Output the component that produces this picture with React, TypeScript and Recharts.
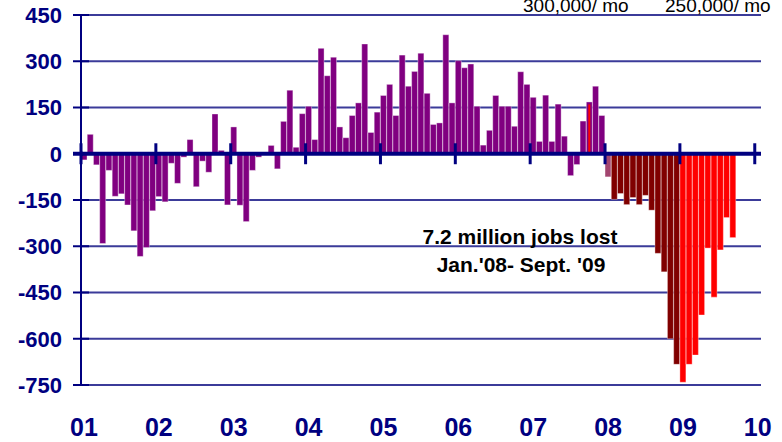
import { BarChart, Bar, XAxis, YAxis, CartesianGrid, ReferenceLine, Cell } from "recharts";

const years = ["2001", "2002", "2003", "2004", "2005", "2006", "2007", "2008", "2009"];

// monthly change in payroll jobs, thousands
const jobs2001 = [-20, 63, -36, -291, -54, -138, -130, -166, -250, -333, -304, -185];
const jobs2002 = [-139, -156, -31, -96, -11, 46, -107, -24, -60, 129, 11, -166];
const jobs2003 = [87, -167, -220, -54, -11, -3, 27, -49, 105, 206, 21, 130];
const jobs2004 = [154, 46, 342, 253, 313, 87, 52, 124, 165, 356, 69, 135];
const jobs2005 = [189, 225, 124, 320, 219, 267, 326, 196, 95, 100, 386, 165];
const jobs2006 = [302, 279, 291, 154, 28, 76, 189, 154, 154, 89, 266, 225];
const jobs2007 = [183, 40, 190, 40, 161, 57, -71, -35, 106, 168, 219, 124];
const jobs2008 = [-75, -148, -129, -165, -142, -165, -135, -183, -323, -383, -600, -683];
const jobs2009 = [-741, -683, -653, -523, -306, -465, -312, -207, -272];

const jobsByYear = [jobs2001, jobs2002, jobs2003, jobs2004, jobs2005, jobs2006, jobs2007, jobs2008, jobs2009];

const highlightMonth = "2007-10";
const highlightValue = 160;

const yTicks = [-750, -600, -450, -300, -150, 0, 150, 300, 450];
const yearTicks = [...years.map((y) => `${y}-01`), "2010-01"];

const data: { month: string; jobs: number | null; hl: number | null }[] = [];
years.forEach((yr, i) => {
  for (let m = 0; m < 12; m++) {
    const month = `${yr}-${String(m + 1).padStart(2, "0")}`;
    const v = jobsByYear[i][m];
    data.push({
      month,
      jobs: v === undefined ? null : v,
      hl: month === highlightMonth ? highlightValue : null,
    });
  }
});
data.push({ month: "2010-01", jobs: null, hl: null });

const NAVY = "#000080";
const FONT = "'Liberation Sans', Arial, sans-serif";
const PLOT_W = 680;
const BAND = PLOT_W / data.length;

const colorFor = (month: string) => {
  if (month === "2008-01") return "#a3456f";
  if (month.startsWith("2008")) return "#800000";
  if (month.startsWith("2009")) return "#ff0000";
  return "#800080";
};

const XTick = (props: any) => {
  const { x, y, payload } = props;
  const [yr, mo] = String(payload.value).split("-");
  if (mo !== "01") return null;
  return (
    <text
      x={x - BAND / 2 + 3}
      y={y + 51}
      textAnchor="middle"
      fill={NAVY}
      fontSize={25}
      fontWeight="bold"
      fontFamily={FONT}
    >
      {yr.slice(2)}
    </text>
  );
};

const YTick = (props: any) => {
  const { x, y, payload } = props;
  const zero = payload.value === 0;
  return (
    <g>
      <line x1={x - 8} x2={x + (zero ? 2 : 8)} y1={y} y2={y} stroke={NAVY} strokeWidth={zero ? 4 : 2} />
      <text
        x={x - 19}
        y={y}
        dy="0.36em"
        textAnchor="end"
        fill={NAVY}
        fontSize={22}
        fontWeight="bold"
        fontFamily={FONT}
      >
        {payload.value}
      </text>
    </g>
  );
};

export default function App() {
  return (
    <div style={{ position: "absolute", left: 0, top: 0, width: 782, height: 442, background: "#fff" }}>
      <BarChart
        width={782}
        height={442}
        data={data}
        margin={{ top: 15, right: 21, bottom: 0, left: 0 }}
        barCategoryGap={0}
        barGap={0}
      >
        <CartesianGrid vertical={false} stroke="#3b3b99" strokeWidth={1.8} />
        <XAxis
          dataKey="month"
          height={57}
          interval={0}
          axisLine={false}
          tickLine={false}
          tickSize={0}
          tickMargin={0}
          tick={<XTick />}
        />
        <XAxis xAxisId="hl" dataKey="month" hide />
        <YAxis
          width={81}
          domain={[-750, 450]}
          ticks={yTicks}
          interval={0}
          axisLine={{ stroke: NAVY, strokeWidth: 2 }}
          tickLine={false}
          tickSize={0}
          tickMargin={0}
          tick={<YTick />}
        />
        <Bar dataKey="jobs" isAnimationActive={false} stroke="#ffffff" strokeOpacity={0.45} strokeWidth={0.8}>
          {data.map((d) => (
            <Cell key={d.month} fill={colorFor(d.month)} />
          ))}
        </Bar>
        <Bar dataKey="hl" xAxisId="hl" barSize={2} fill="#ff0000" isAnimationActive={false} />
        <ReferenceLine y={0} stroke={NAVY} strokeWidth={4} />
        {yearTicks.map((t) => (
          <ReferenceLine
            key={t}
            segment={[
              { x: t, y: -34 },
              { x: t, y: 34 },
            ]}
            position="start"
            stroke={NAVY}
            strokeWidth={3}
          />
        ))}
      </BarChart>
      <svg
        width={782}
        height={442}
        style={{ position: "absolute", left: 0, top: 0, pointerEvents: "none" }}
        fontFamily={FONT}
      >
        <text x={523} y={12} fontSize={19} fill="#000">300,000/ mo</text>
        <text x={665} y={12} fontSize={19} fill="#000">250,000/ mo</text>
        <text x={520} y={244} textAnchor="middle" fontSize={21} fontWeight="bold" fill="#000">
          7.2 million jobs lost
        </text>
        <text x={521} y={272} textAnchor="middle" fontSize={21} fontWeight="bold" fill="#000">
          Jan.'08- Sept. '09
        </text>
      </svg>
    </div>
  );
}
